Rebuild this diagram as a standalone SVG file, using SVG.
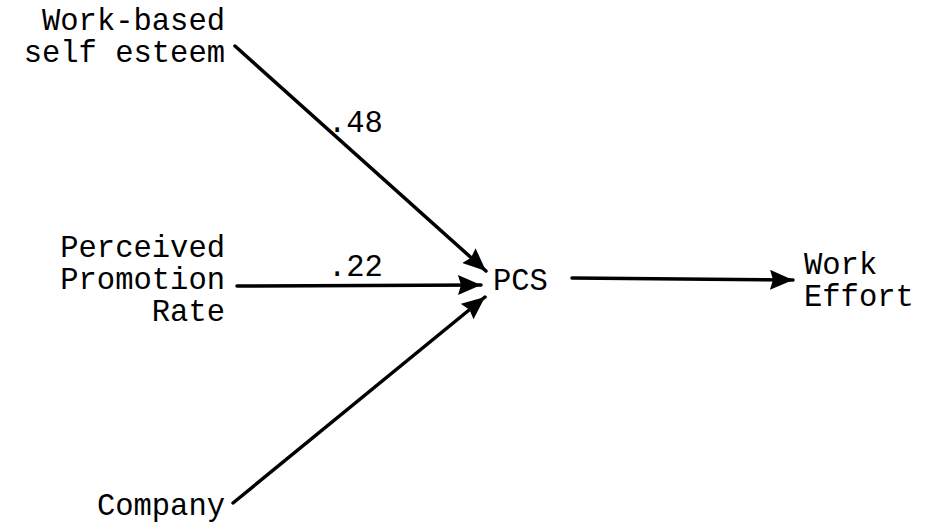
<svg xmlns="http://www.w3.org/2000/svg" width="932" height="530" viewBox="0 0 932 530">
<style>
.t{font-family:"Liberation Mono","DejaVu Sans Mono",monospace;font-size:30.5px;fill:#000}
.r{text-anchor:end}
.c{stroke:#000;stroke-width:3.5;fill:none;stroke-linecap:round}
</style>
<defs>
<marker id="ah" markerUnits="userSpaceOnUse" markerWidth="26" markerHeight="22" refX="23" refY="10" orient="auto">
<path d="M0,0 L23,10 L0,20 L3,10 z" fill="#000"/>
</marker>
</defs>
<rect width="932" height="530" fill="#fff"/>
<g id="connectors">
<line class="c" x1="235" y1="46" x2="486" y2="271" marker-end="url(#ah)"/>
<line class="c" x1="237" y1="286" x2="481" y2="285" marker-end="url(#ah)"/>
<line class="c" x1="233" y1="503" x2="485" y2="297" marker-end="url(#ah)"/>
<line class="c" x1="572" y1="278" x2="793" y2="280" marker-end="url(#ah)"/>
<text class="t" x="328" y="132">.48</text>
<text class="t" x="328" y="276">.22</text>
</g>
<g id="node-selfesteem">
<text class="t r" x="225" y="30">Work-based</text>
<text class="t r" x="225" y="62">self esteem</text>
</g>
<g id="node-promotion">
<text class="t r" x="225" y="257">Perceived</text>
<text class="t r" x="225" y="289">Promotion</text>
<text class="t r" x="225" y="321">Rate</text>
</g>
<g id="node-company">
<text class="t r" x="225" y="515">Company</text>
</g>
<g id="node-pcs">
<text class="t" x="493" y="290">PCS</text>
</g>
<g id="node-workeffort">
<text class="t" x="804" y="274">Work</text>
<text class="t" x="804" y="306">Effort</text>
</g>
</svg>
